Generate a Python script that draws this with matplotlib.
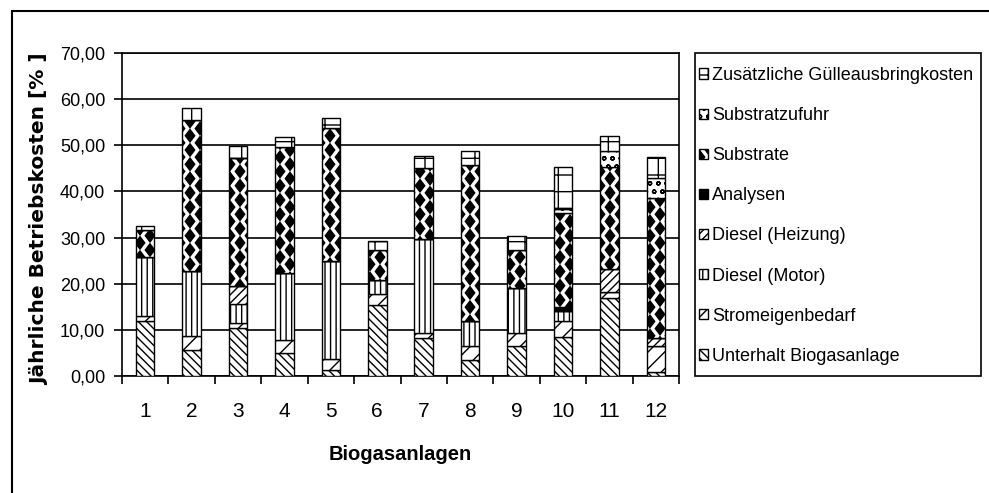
import matplotlib
matplotlib.use("Agg")
import matplotlib.pyplot as plt
import numpy as np
from matplotlib import hatch as mhatch
from matplotlib.path import Path
from matplotlib.patches import Rectangle
from matplotlib.ticker import FuncFormatter, MultipleLocator


# Betriebskosten je Biogasanlage, Anteile in %
anlagen = [1, 2, 3, 4, 5, 6, 7, 8, 9, 10, 11, 12]

unterhalt = [11.9, 5.6, 10.3, 4.9, 1.4, 15.3, 8.2, 3.5, 6.5, 8.5, 16.8, 0.9]
strom = [1.1, 3.1, 1.1, 2.9, 2.2, 2.5, 1.2, 3.0, 2.9, 3.4, 1.3, 5.6]
diesel_motor = [12.7, 14.1, 4.2, 14.6, 21.4, 2.9, 20.2, 5.4, 9.6, 2.1, 0.0, 0.0]
diesel_heizung = [0.0, 0.0, 3.8, 0.0, 0.0, 0.0, 0.0, 0.0, 0.0, 0.0, 5.0, 1.8]
analysen = [0.0, 0.0, 0.0, 0.0, 0.0, 0.0, 0.0, 0.0, 0.0, 1.0, 0.0, 0.0]
substrate = [6.0, 32.7, 27.8, 27.3, 28.7, 6.5, 15.4, 33.9, 8.3, 20.3, 22.3, 30.2]
substratzufuhr = [0.0, 0.0, 0.0, 0.0, 0.0, 0.0, 0.0, 0.0, 0.0, 0.9, 3.4, 4.5]
guelle = [0.8, 2.6, 2.7, 2.0, 2.2, 2.1, 2.6, 3.0, 3.1, 9.2, 3.3, 4.4]

namen = ["Unterhalt Biogasanlage", "Stromeigenbedarf", "Diesel (Motor)",
         "Diesel (Heizung)", "Analysen", "Substrate", "Substratzufuhr",
         "Zusätzliche Gülleausbringkosten"]
reihen = [unterhalt, strom, diesel_motor, diesel_heizung, analysen,
          substrate, substratzufuhr, guelle]


# staggered black diamonds, used in place of the large-circle hatch 'O'
class Diamonds(mhatch.HatchPatternBase):
    def __init__(self, hatch, density):
        n = hatch.count('O')
        self.centers = []
        if n:
            nx, ny = 5 * n, 14 * n
            for r in range(ny + 1):
                if r % 2 == 0:
                    xs = np.linspace(0, 1, nx + 1)
                else:
                    xs = (np.arange(nx) + 0.5) / nx
                for x in xs:
                    self.centers.append((x, r / ny))
        self.num_vertices = len(self.centers) * 5

    def set_vertices_and_codes(self, vertices, codes):
        hw, hh = 0.047, 0.062
        shape = np.array([[0, -hh], [hw, 0], [0, hh], [-hw, 0], [0, -hh]])
        for i, (cx, cy) in enumerate(self.centers):
            vertices[i * 5:(i + 1) * 5] = shape + [cx, cy]
            codes[i * 5:(i + 1) * 5] = [Path.MOVETO, Path.LINETO, Path.LINETO,
                                       Path.LINETO, Path.CLOSEPOLY]


mhatch._hatch_types = [Diamonds if t is mhatch.LargeCircles else t
                       for t in mhatch._hatch_types]

plt.rcParams['hatch.linewidth'] = 1.0
plt.rcParams['hatch.color'] = 'black'
plt.rcParams['font.family'] = ['Liberation Sans', 'DejaVu Sans']

muster = ['\\\\\\\\', '//', '|||', '////', '', 'O', 'oo', '+']
farben = ['white', 'white', 'white', 'white', 'black', 'white', 'white', 'white']

fig = plt.figure(figsize=(9.89, 4.93), dpi=100)
ax = fig.add_axes([122 / 989, 1 - 376 / 493, 557 / 989, 323 / 493])

x = np.array(anlagen)
unten = np.zeros(len(anlagen))
balken = []
for werte, name, h, fc in zip(reihen, namen, muster, farben):
    b = ax.bar(x, werte, 0.4, bottom=unten, color=fc, edgecolor='black',
               linewidth=1.0, hatch=h, label=name, zorder=3)
    balken.append(b)
    unten += np.array(werte)

ax.set_xlim(0.5, 12.5)
ax.set_ylim(0, 70)
ax.yaxis.set_major_locator(MultipleLocator(10))
ax.yaxis.set_major_formatter(FuncFormatter(lambda v, p: f"{v:.2f}".replace('.', ',')))
ax.grid(axis='y', color='black', linewidth=1.2, zorder=0)

ax.set_xticks(x)
ax.set_xticks(np.arange(0.5, 13, 1), minor=True)
ax.tick_params(axis='x', which='major', length=0, pad=19, labelsize=15)
ax.tick_params(axis='x', which='minor', length=6, width=1.2, direction='out')
ax.tick_params(axis='y', length=6, width=1.2, direction='out', pad=6,
               labelsize=13)
for s in ax.spines.values():
    s.set_linewidth(1.2)

ax.set_xlabel("Biogasanlagen", fontsize=14.5, fontweight='bold', labelpad=17)
fig.text(40 / 989, 1 - 219 / 493, "Jährliche Betriebskosten [% ]",
         rotation=90, ha='center', va='center', fontsize=14.5,
         fontweight='bold', family='DejaVu Sans')

# Legende ohne eigenen Rahmen, der Kasten wird extra gezeichnet
fig.add_artist(Rectangle((695 / 989, 1 - 376 / 493), 286 / 989, 323 / 493,
                         fill=False, edgecolor='black', linewidth=1.2,
                         transform=fig.transFigure))
leg = fig.legend(balken[::-1], namen[::-1], loc='upper left',
                 bbox_to_anchor=(699 / 989, 1 - 67 / 493),
                 prop={'size': 13}, frameon=False,
                 handlelength=0.5, handleheight=0.5, handletextpad=0.22,
                 labelspacing=1.28, borderpad=0, borderaxespad=0)

# Rahmen um das Diagramm
fig.add_artist(Rectangle((12 / 989, -0.1), 1.2, 1.1 - 11 / 493, fill=False,
                         edgecolor='black', linewidth=1.5,
                         transform=fig.transFigure))

fig.savefig("out.png", dpi=100)
